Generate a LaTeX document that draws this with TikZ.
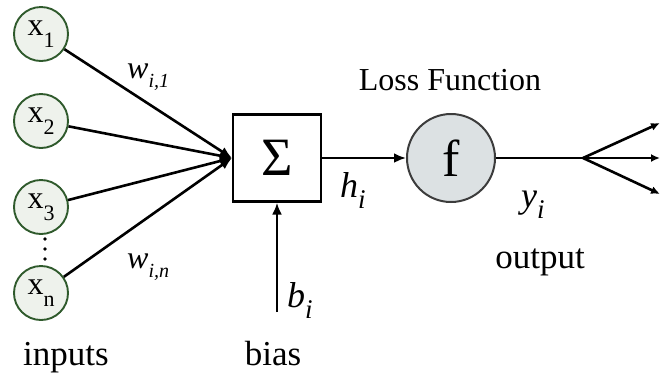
\documentclass[tikz,border=0pt]{standalone}
\usepackage{fontspec}
\setmainfont{Liberation Serif}
\usetikzlibrary{arrows.meta,positioning}
\definecolor{leaf}{RGB}{47,90,44}
\definecolor{leaffill}{RGB}{238,242,236}
\definecolor{lossfill}{RGB}{220,225,227}
\definecolor{lossedge}{RGB}{60,60,60}
\newcommand{\lowsub}[3]{\raisebox{-#1pt}{\fontsize{#2}{#2}\selectfont #3}}

\begin{document}
\begin{tikzpicture}[x=1pt, y=-1pt,
  >={Latex[length=12pt,width=10pt]},
  inp/.style={circle, draw=leaf, line width=1.9pt, fill=leaffill, minimum size=54pt, inner sep=0pt, font=\fontsize{32}{32}\selectfont},
  sumbox/.style={draw, line width=2.2pt, minimum width=88pt, minimum height=87pt, inner sep=0pt, font=\fontsize{54}{54}\selectfont},
  loss/.style={circle, draw=lossedge, line width=2pt, fill=lossfill, minimum size=88pt, inner sep=0pt, font=\fontsize{52}{52}\selectfont},
  lbl/.style={inner sep=0pt, anchor=base, font=\fontsize{35}{35}\selectfont},
  var/.style={inner sep=0pt, anchor=base west, font=\fontsize{36}{36}\selectfont\itshape},
  wvar/.style={inner sep=0pt, anchor=base west, font=\fontsize{32}{32}\selectfont\itshape},
  wire/.style={->, line width=2.6pt},
  outwire/.style={-{Latex[length=9pt,width=8pt]}, line width=2.6pt}
]
\useasboundingbox (0,0) rectangle (660,373);

% inputs
\node[inp] (x1) at (41,34) {x\lowsub{12}{22}{1}};
\node[inp] (x2) at (41,121) {x\lowsub{12}{22}{2}};
\node[inp] (x3) at (41,207) {x\lowsub{12}{22}{3}};
\node[inp] (xn) at (41,293) {x\lowsub{12}{22}{n}};
\foreach \yy in {239,249,259}
  \fill (45,\yy) circle (1.9pt);

% summation and loss
\node[sumbox] (sigma) at (277,158) {Σ};
\node[loss] (f) at (451,158) {f};

\draw[wire] (x1) -- (sigma.west);
\draw[wire] (x2) -- (sigma.west);
\draw[wire] (x3) -- (sigma.west);
\draw[wire] (xn) -- (sigma.west);
\draw[wire] (sigma) -- (f);

\coordinate (bstart) at (277,312);
\draw[wire] (bstart) -- (sigma.south);

\coordinate (fork) at (583,158);
\coordinate (o1) at (660,123);
\coordinate (o2) at (660,158);
\coordinate (o3) at (660,194);
\draw[line width=2.6pt] (f) -- (fork);
\draw[outwire] (fork) -- (o1);
\draw[outwire] (fork) -- (o2);
\draw[outwire] (fork) -- (o3);

% labels
\node[wvar] (w1) at (127,78) {w\lowsub{9}{20}{i,1}};
\node[wvar] (wn) at (127,268) {w\lowsub{9}{20}{i,n}};
\node[var] (h) at (340,197) {h\lowsub{11}{27}{i}};
\node[var] (b) at (287,307) {b\lowsub{11}{27}{i}};
\node[var] (y) at (521,207) {y\lowsub{11}{27}{i}};
\node[lbl, font=\fontsize{32}{32}\selectfont] (lossname) at (450,90) {Loss Function};
\node[lbl] (outname) at (540,268) {output};
\node[lbl] (inname) at (66,365) {inputs};
\node[lbl] (biasname) at (273,365) {bias};
\end{tikzpicture}
\end{document}
